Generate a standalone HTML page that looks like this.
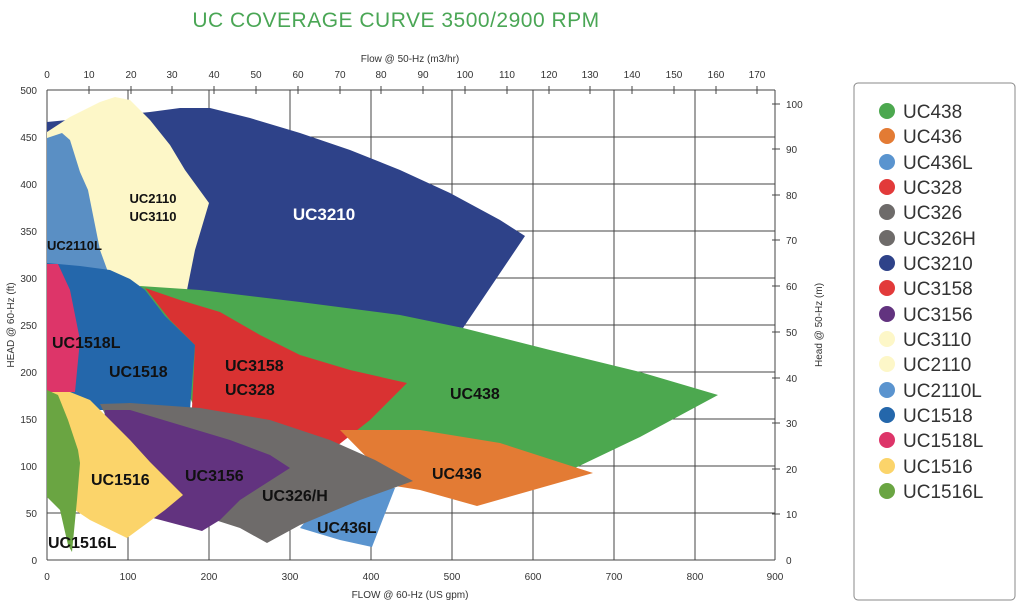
<!DOCTYPE html>
<html><head><meta charset="utf-8"><style>
body{margin:0;background:#fff;width:1024px;height:609px;overflow:hidden;font-family:"Liberation Sans",sans-serif}
</style></head><body>
<svg width="1024" height="609" xmlns="http://www.w3.org/2000/svg" font-family="Liberation Sans, sans-serif">
<text x="396" y="27" text-anchor="middle" font-size="21" fill="#4aa655" letter-spacing="0.5">UC COVERAGE CURVE 3500/2900 RPM</text>
<g stroke="#444" stroke-width="1">
<line x1="47" y1="90" x2="775" y2="90"/><line x1="47" y1="137" x2="775" y2="137"/><line x1="47" y1="184" x2="775" y2="184"/><line x1="47" y1="231" x2="775" y2="231"/><line x1="47" y1="278" x2="775" y2="278"/><line x1="47" y1="325" x2="775" y2="325"/><line x1="47" y1="372" x2="775" y2="372"/><line x1="47" y1="419" x2="775" y2="419"/><line x1="47" y1="466" x2="775" y2="466"/><line x1="47" y1="513" x2="775" y2="513"/><line x1="47" y1="560" x2="775" y2="560"/>
<line x1="47" y1="90" x2="47" y2="560"/><line x1="128" y1="90" x2="128" y2="560"/><line x1="209" y1="90" x2="209" y2="560"/><line x1="290" y1="90" x2="290" y2="560"/><line x1="371" y1="90" x2="371" y2="560"/><line x1="452" y1="90" x2="452" y2="560"/><line x1="533" y1="90" x2="533" y2="560"/><line x1="614" y1="90" x2="614" y2="560"/><line x1="695" y1="90" x2="695" y2="560"/><line x1="775" y1="90" x2="775" y2="560"/>
</g>
<g stroke="#444">
<line x1="89" y1="86" x2="89" y2="94"/><line x1="131" y1="86" x2="131" y2="94"/><line x1="172" y1="86" x2="172" y2="94"/><line x1="214" y1="86" x2="214" y2="94"/><line x1="256" y1="86" x2="256" y2="94"/><line x1="298" y1="86" x2="298" y2="94"/><line x1="340" y1="86" x2="340" y2="94"/><line x1="381" y1="86" x2="381" y2="94"/><line x1="423" y1="86" x2="423" y2="94"/><line x1="465" y1="86" x2="465" y2="94"/><line x1="507" y1="86" x2="507" y2="94"/><line x1="549" y1="86" x2="549" y2="94"/><line x1="590" y1="86" x2="590" y2="94"/><line x1="632" y1="86" x2="632" y2="94"/><line x1="674" y1="86" x2="674" y2="94"/><line x1="716" y1="86" x2="716" y2="94"/><line x1="757" y1="86" x2="757" y2="94"/>
<line x1="772" y1="514" x2="780" y2="514"/><line x1="772" y1="469" x2="780" y2="469"/><line x1="772" y1="423" x2="780" y2="423"/><line x1="772" y1="378" x2="780" y2="378"/><line x1="772" y1="332" x2="780" y2="332"/><line x1="772" y1="286" x2="780" y2="286"/><line x1="772" y1="240" x2="780" y2="240"/><line x1="772" y1="195" x2="780" y2="195"/><line x1="772" y1="149" x2="780" y2="149"/><line x1="772" y1="104" x2="780" y2="104"/>
</g>
<polygon fill="#2e4289" points="47,122 150,112 180,108 210,108 250,118 300,133 350,150 400,170 450,193 500,220 525,236 463,328 300,305 187,290 47,300"/>
<polygon fill="#fdf7c8" points="47,132 70,117 100,102 115,97 130,100 150,120 170,145 185,170 209,203 195,250 187,290 47,300"/>
<polygon fill="#5a8fc4" points="47,138 62,133 70,140 80,172 88,190 100,250 108,272 47,272"/>
<polygon fill="#4ca84f" points="140,286 200,290 300,302 400,315 463,328 550,350 640,372 718,395 640,437 575,468 500,460 400,440 340,430 200,420"/>
<polygon fill="#2467ab" points="47,263 80,266 110,270 130,279 145,290 165,316 195,345 190,410 47,410"/>
<polygon fill="#d93232" points="145,288 180,300 220,312 260,335 300,355 350,370 407,383 370,420 337,446 250,430 192,408 195,345 170,320"/>
<polygon fill="#e37b34" points="340,430 420,430 500,443 593,473 477,506 420,490 395,486"/>
<polygon fill="#5a94cf" points="340,480 395,488 372,547 340,540 300,528"/>
<polygon fill="#6e6b6a" points="100,404 130,403 200,408 270,420 330,440 375,460 413,481 360,500 300,525 267,543 240,528 215,520 150,505"/>
<polygon fill="#62337f" points="105,410 130,410 180,425 230,440 270,455 290,468 240,500 220,520 202,531 153,518 130,500 100,475"/>
<polygon fill="#dd3569" points="47,264 58,264 70,290 80,340 75,392 47,392"/>
<polygon fill="#fbd46a" points="47,392 70,392 90,400 110,420 130,440 150,462 183,495 165,510 127,538 90,520 75,510 47,497"/>
<polygon fill="#6aa542" points="47,390 58,395 68,420 78,450 80,463 77,500 72,552 68,545 60,510 47,497"/>
<g font-weight="bold" fill="#111" font-size="16">
<text x="153" y="203" font-size="13" text-anchor="middle">UC2110</text>
<text x="153" y="221" font-size="13" text-anchor="middle">UC3110</text>
<text x="47" y="250" font-size="13">UC2110L</text>
<text x="324" y="220" fill="#fff" font-size="17" text-anchor="middle">UC3210</text>
<text x="52" y="348">UC1518L</text>
<text x="109" y="377">UC1518</text>
<text x="225" y="371">UC3158</text>
<text x="225" y="395">UC328</text>
<text x="450" y="399">UC438</text>
<text x="432" y="479">UC436</text>
<text x="91" y="485">UC1516</text>
<text x="185" y="481">UC3156</text>
<text x="262" y="501">UC326/H</text>
<text x="317" y="533">UC436L</text>
<text x="48" y="548">UC1516L</text>
</g>
<g font-size="10" fill="#333">
<g text-anchor="end"><text x="37" y="94">500</text><text x="37" y="141">450</text><text x="37" y="188">400</text><text x="37" y="235">350</text><text x="37" y="282">300</text><text x="37" y="329">250</text><text x="37" y="376">200</text><text x="37" y="423">150</text><text x="37" y="470">100</text><text x="37" y="517">50</text><text x="37" y="564">0</text></g>
<g text-anchor="middle"><text x="47" y="580">0</text><text x="128" y="580">100</text><text x="209" y="580">200</text><text x="290" y="580">300</text><text x="371" y="580">400</text><text x="452" y="580">500</text><text x="533" y="580">600</text><text x="614" y="580">700</text><text x="695" y="580">800</text><text x="775" y="580">900</text>
<text x="47" y="78">0</text><text x="89" y="78">10</text><text x="131" y="78">20</text><text x="172" y="78">30</text><text x="214" y="78">40</text><text x="256" y="78">50</text><text x="298" y="78">60</text><text x="340" y="78">70</text><text x="381" y="78">80</text><text x="423" y="78">90</text><text x="465" y="78">100</text><text x="507" y="78">110</text><text x="549" y="78">120</text><text x="590" y="78">130</text><text x="632" y="78">140</text><text x="674" y="78">150</text><text x="716" y="78">160</text><text x="757" y="78">170</text></g>
<g><text x="786" y="564">0</text><text x="786" y="518">10</text><text x="786" y="473">20</text><text x="786" y="427">30</text><text x="786" y="382">40</text><text x="786" y="336">50</text><text x="786" y="290">60</text><text x="786" y="244">70</text><text x="786" y="199">80</text><text x="786" y="153">90</text><text x="786" y="108">100</text></g>
<text x="410" y="62" text-anchor="middle">Flow @ 50-Hz (m3/hr)</text>
<text x="410" y="598" text-anchor="middle">FLOW @ 60-Hz (US gpm)</text>
<text transform="translate(14,325) rotate(-90)" text-anchor="middle">HEAD @ 60-Hz (ft)</text>
<text transform="translate(822,325) rotate(-90)" text-anchor="middle">Head @ 50-Hz (m)</text>
</g>
<rect x="854" y="83" width="161" height="517" rx="4" fill="#fff" stroke="#888"/>
<g font-size="19" fill="#333">
<circle cx="887" cy="111" r="8" fill="#4ca84f"/><text x="903" y="118">UC438</text>
<circle cx="887" cy="136" r="8" fill="#e37b34"/><text x="903" y="143">UC436</text>
<circle cx="887" cy="162" r="8" fill="#5a94cf"/><text x="903" y="169">UC436L</text>
<circle cx="887" cy="187" r="8" fill="#e23a3a"/><text x="903" y="194">UC328</text>
<circle cx="887" cy="212" r="8" fill="#6e6b6a"/><text x="903" y="219">UC326</text>
<circle cx="887" cy="238" r="8" fill="#6e6b6a"/><text x="903" y="245">UC326H</text>
<circle cx="887" cy="263" r="8" fill="#2e4289"/><text x="903" y="270">UC3210</text>
<circle cx="887" cy="288" r="8" fill="#e23a3a"/><text x="903" y="295">UC3158</text>
<circle cx="887" cy="314" r="8" fill="#62337f"/><text x="903" y="321">UC3156</text>
<circle cx="887" cy="339" r="8" fill="#fdf7c8"/><text x="903" y="346">UC3110</text>
<circle cx="887" cy="364" r="8" fill="#fdf7c8"/><text x="903" y="371">UC2110</text>
<circle cx="887" cy="390" r="8" fill="#5a94cf"/><text x="903" y="397">UC2110L</text>
<circle cx="887" cy="415" r="8" fill="#2467ab"/><text x="903" y="422">UC1518</text>
<circle cx="887" cy="440" r="8" fill="#dd3569"/><text x="903" y="447">UC1518L</text>
<circle cx="887" cy="466" r="8" fill="#fbd46a"/><text x="903" y="473">UC1516</text>
<circle cx="887" cy="491" r="8" fill="#6aa542"/><text x="903" y="498">UC1516L</text>
</g>
</svg>
</body></html>
